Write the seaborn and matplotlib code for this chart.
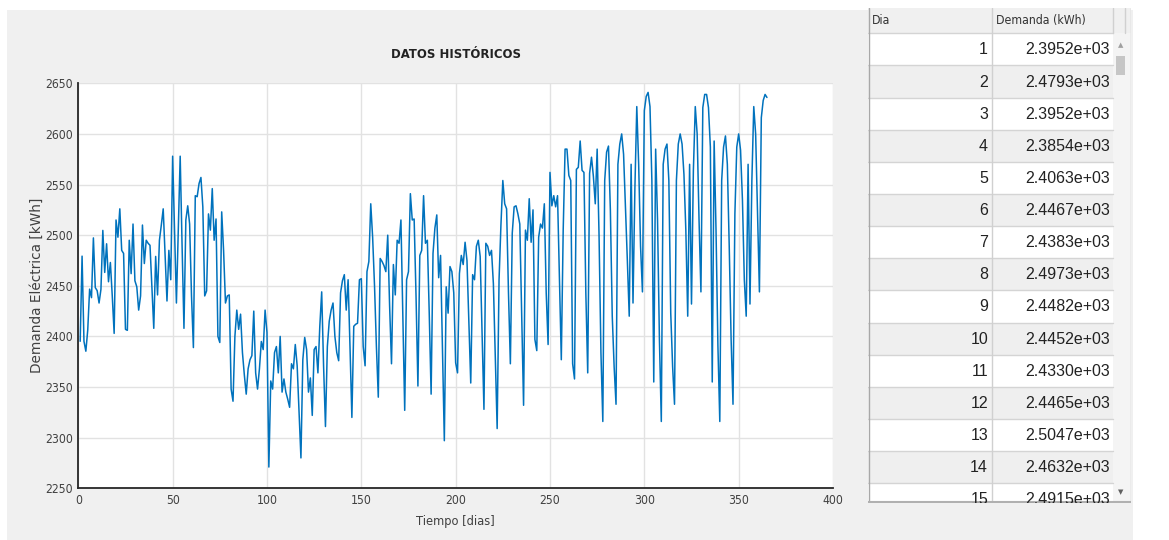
import numpy as np
import pandas as pd
import matplotlib
matplotlib.use("Agg")
import matplotlib.pyplot as plt
import seaborn as sns
from matplotlib import font_manager
from matplotlib.font_manager import FontProperties
from matplotlib.patches import Rectangle

# ---------------- data ----------------
demanda = [
    2395.2, 2479.3, 2395.2, 2385.4, 2406.3, 2446.7, 2438.3, 2497.3, 2448.2, 2445.2,
    2433.0, 2446.5, 2504.7, 2463.2, 2491.5, 2454, 2473, 2440, 2403, 2515,
    2498, 2526, 2485, 2482, 2407, 2406, 2495, 2462, 2511, 2455,
    2449, 2426, 2440, 2510, 2472, 2495, 2492, 2490, 2450, 2408,
    2479, 2441, 2495, 2510, 2526, 2480, 2435, 2485, 2456, 2578,
    2505, 2433, 2505, 2578, 2490, 2408, 2515, 2529, 2511, 2440,
    2389, 2539, 2538, 2551, 2557, 2528, 2440, 2445, 2521, 2505,
    2546, 2495, 2516, 2400, 2394, 2523, 2485, 2433, 2440, 2441,
    2348, 2336, 2400, 2426, 2407, 2422, 2384, 2362, 2343, 2368,
    2377, 2381, 2425, 2364, 2348, 2368, 2395, 2387, 2426, 2404,
    2271, 2356, 2348, 2384, 2390, 2364, 2400, 2345, 2358, 2345,
    2338, 2330, 2373, 2368, 2392, 2371, 2325, 2280, 2377, 2399,
    2387, 2345, 2359, 2322, 2387, 2390, 2364, 2410, 2444, 2371,
    2311, 2390, 2415, 2426, 2433, 2400, 2384, 2376, 2443, 2455,
    2461, 2426, 2456, 2390, 2320, 2410, 2412, 2413, 2456, 2457,
    2390, 2371, 2464, 2474, 2531, 2498, 2450, 2390, 2340, 2477,
    2474, 2470, 2464, 2500, 2430, 2373, 2471, 2441, 2495, 2492,
    2515, 2423, 2327, 2456, 2464, 2541, 2515, 2516, 2440, 2351,
    2480, 2485, 2539, 2492, 2495, 2423, 2343, 2482, 2507, 2520,
    2458, 2480, 2390, 2297, 2449, 2423, 2469, 2464, 2443, 2374,
    2364, 2462, 2480, 2471, 2493, 2475, 2416, 2354, 2461, 2456,
    2489, 2495, 2479, 2404, 2328, 2492, 2489, 2480, 2485, 2452,
    2380, 2309, 2456, 2510, 2554, 2531, 2526, 2443, 2373, 2502,
    2528, 2529, 2521, 2511, 2420, 2332, 2505, 2495, 2536, 2493,
    2525, 2397, 2386, 2498, 2511, 2507, 2531, 2443, 2392, 2562,
    2529, 2539, 2528, 2539, 2456, 2377, 2505, 2585, 2585, 2559,
    2554, 2373, 2358, 2565, 2567, 2593, 2564, 2562, 2443, 2364,
    2561, 2577, 2558, 2531, 2585, 2500, 2384, 2316, 2554, 2582,
    2588, 2525, 2420, 2370, 2333, 2570, 2590, 2600, 2580, 2528,
    2475, 2420, 2570, 2433, 2546, 2627, 2570, 2489, 2444, 2623,
    2637, 2641, 2627, 2554, 2355, 2585, 2515, 2397, 2316, 2570,
    2585, 2590, 2554, 2423, 2370, 2333, 2554, 2590, 2600, 2590,
    2560, 2505, 2420, 2570, 2432, 2564, 2627, 2600, 2515, 2444,
    2626, 2639, 2639, 2626, 2587, 2355, 2593, 2505, 2391, 2316,
    2554, 2587, 2598, 2570, 2489, 2397, 2333, 2521, 2587, 2600,
    2584, 2535, 2456, 2420, 2570, 2432, 2554, 2627, 2600, 2521,
    2444, 2616, 2633, 2639, 2636,
]
dias = list(range(1, len(demanda) + 1))

x_ticks = [0, 50, 100, 150, 200, 250, 300, 350, 400]
y_ticks = [2250, 2300, 2350, 2400, 2450, 2500, 2550, 2600, 2650]
titulo = "DATOS HISTÓRICOS"
etiqueta_x = "Tiempo [dias]"
etiqueta_y = "Demanda Eléctrica [kWh]"
encabezados = ["Dia", "Demanda (kWh)"]
filas_visibles = 15

# ---------------- style ----------------
sns.set_theme(style="white")
plt.rcParams["font.family"] = ["Liberation Sans", "DejaVu Sans"]


def buscar_condensada(bold=False):
    """Look for any installed condensed/narrow font file."""
    mejores = []
    for f in font_manager.fontManager.ttflist:
        nombre = (f.fname + " " + f.name).lower()
        if ("condensed" in nombre or "narrow" in nombre) and "mono" not in nombre \
                and "oblique" not in nombre and "italic" not in nombre:
            es_bold = ("bold" in nombre) or (str(f.weight) in ("bold", "700", "600"))
            if es_bold == bold:
                mejores.append(f.fname)
    mejores.sort()
    return mejores[0] if mejores else None


f_cond = buscar_condensada(False)
f_cond_b = buscar_condensada(True)
if f_cond:
    fp_tick = FontProperties(fname=f_cond, size=8.7)
    fp_label = FontProperties(fname=f_cond, size=9.2)
else:
    fp_tick = FontProperties(family="Liberation Sans", size=9)
    fp_label = FontProperties(family="Liberation Sans", size=9.5)
if f_cond_b:
    fp_title = FontProperties(fname=f_cond_b, size=9.4)
elif f_cond:
    fp_title = FontProperties(fname=f_cond, size=10)
else:
    fp_title = FontProperties(family="Liberation Sans", size=9.5, weight="bold")

W, H = 1169, 540
fig = plt.figure(figsize=(W / 100, H / 100), dpi=100)
fig.patch.set_facecolor("white")


def fx(px):
    return px / W


def fy(py):
    return 1 - py / H


# gray panel background
fig.patches.append(Rectangle((fx(7), 0), fx(1133) - fx(7), fy(10),
                             transform=fig.transFigure, facecolor="#f0f0f0",
                             edgecolor="none", zorder=-10))

# ---------------- line chart ----------------
ax_l, ax_r, ax_t, ax_b = 78.3, 833.0, 83.3, 488.3
ax = fig.add_axes([fx(ax_l), fy(ax_b), fx(ax_r) - fx(ax_l), (ax_b - ax_t) / H])
df = pd.DataFrame({"Dia": dias, "Demanda": demanda})
sns.lineplot(data=df, x="Dia", y="Demanda", ax=ax, color="#0072BD", linewidth=1.1)
ax.set_xlim(0, 400)
ax.set_ylim(2250, 2650)
ax.set_xticks(x_ticks)
ax.set_yticks(y_ticks)
ax.set_facecolor("white")
ax.grid(True, color="#e2e2e2", linewidth=1.0)
ax.set_axisbelow(True)
for s in ["top", "right"]:
    ax.spines[s].set_visible(False)
for s in ["left", "bottom"]:
    ax.spines[s].set_color("#262626")
    ax.spines[s].set_linewidth(1.3)
ax.tick_params(direction="in", length=5, width=1, colors="#262626",
               labelcolor="#404040", pad=4)
for lab in ax.get_xticklabels() + ax.get_yticklabels():
    lab.set_fontproperties(fp_tick)
ax.set_title(titulo, fontproperties=fp_title, color="#222222", pad=18)
ax.set_xlabel(etiqueta_x, fontproperties=fp_label, color="#404040")
ax.xaxis.set_label_coords(0.5, -(521 - ax_b) / (ax_b - ax_t))
ax.xaxis.label.set_va("center")
ax.set_ylabel(etiqueta_y, fontsize=9.8, color="#404040", family="DejaVu Sans")
ax.yaxis.set_label_coords(-(ax_l - 37) / (ax_r - ax_l), 0.5)
ax.yaxis.label.set_va("center")

# ---------------- table ----------------
t_l, t_r, t_t, t_b = 868.0, 1131.0, 8.0, 503.0
tax = fig.add_axes([fx(t_l), fy(t_b), fx(t_r) - fx(t_l), (t_b - t_t) / H])
tax.set_xlim(t_l, t_r)
tax.set_ylim(t_b, t_t)
tax.axis("off")

head_b = 33.3
row_h = 32.14
col_div = 992.0
val_r = 1113.0

# header
tax.add_patch(Rectangle((t_l, t_t), t_r - t_l, head_b - t_t, facecolor="#f0f0f0",
                        edgecolor="none"))
fp_head = FontProperties(fname=f_cond, size=8.8) if f_cond else \
    FontProperties(family="Liberation Sans", size=8.5)
tax.text(t_l + 4, (t_t + head_b) / 2, encabezados[0], ha="left", va="center",
         fontproperties=fp_head, color="#333333")
tax.text(col_div + 4, (t_t + head_b) / 2, encabezados[1], ha="left", va="center",
         fontproperties=fp_head, color="#333333")

for i in range(filas_visibles):
    y0 = head_b + i * row_h
    color = "white" if i % 2 == 0 else "#efefef"
    tax.add_patch(Rectangle((t_l, y0), val_r - t_l, row_h, facecolor=color,
                            edgecolor="none", clip_on=True))
    tax.plot([t_l, val_r], [y0, y0], color="#d4d4d4", lw=1)
    yc = y0 + row_h / 2 + 0.5
    tax.text(col_div - 4, yc, str(dias[i]), ha="right", va="center", fontsize=11.5,
             color="#222222", family="Liberation Sans", clip_on=True)
    tax.text(val_r - 3, yc, f"{demanda[i]:.4e}", ha="right", va="center",
             fontsize=11.5, color="#222222", family="Liberation Sans", clip_on=True)

# vertical lines
tax.plot([t_l + 0.5, t_l + 0.5], [t_t, t_b], color="#a8a8a8", lw=1)
tax.plot([col_div, col_div], [t_t, t_b], color="#d0d0d0", lw=1)
tax.plot([val_r, val_r], [t_t, head_b], color="#d0d0d0", lw=1)
tax.plot([1124.5, 1124.5], [t_t, head_b], color="#d0d0d0", lw=1)
tax.plot([t_r - 0.5, t_r - 0.5], [t_t, t_b], color="#c8c8c8", lw=1)
tax.plot([t_l, t_r], [t_b - 0.5, t_b - 0.5], color="#b0b0b0", lw=1.5)

# scrollbar
tax.add_patch(Rectangle((val_r, head_b), t_r - val_r, t_b - head_b,
                        facecolor="#f4f4f4", edgecolor="none"))
tax.add_patch(Rectangle((1116, 56), 9, 19, facecolor="#c6c6c6", edgecolor="none"))
tax.text(1120.5, 45, "▲", ha="center", va="center", fontsize=5, color="#a0a0a0",
         family="DejaVu Sans")
tax.text(1121, 492, "▼", ha="center", va="center", fontsize=5, color="#606060",
         family="DejaVu Sans")

fig.savefig("out.png", dpi=100)
